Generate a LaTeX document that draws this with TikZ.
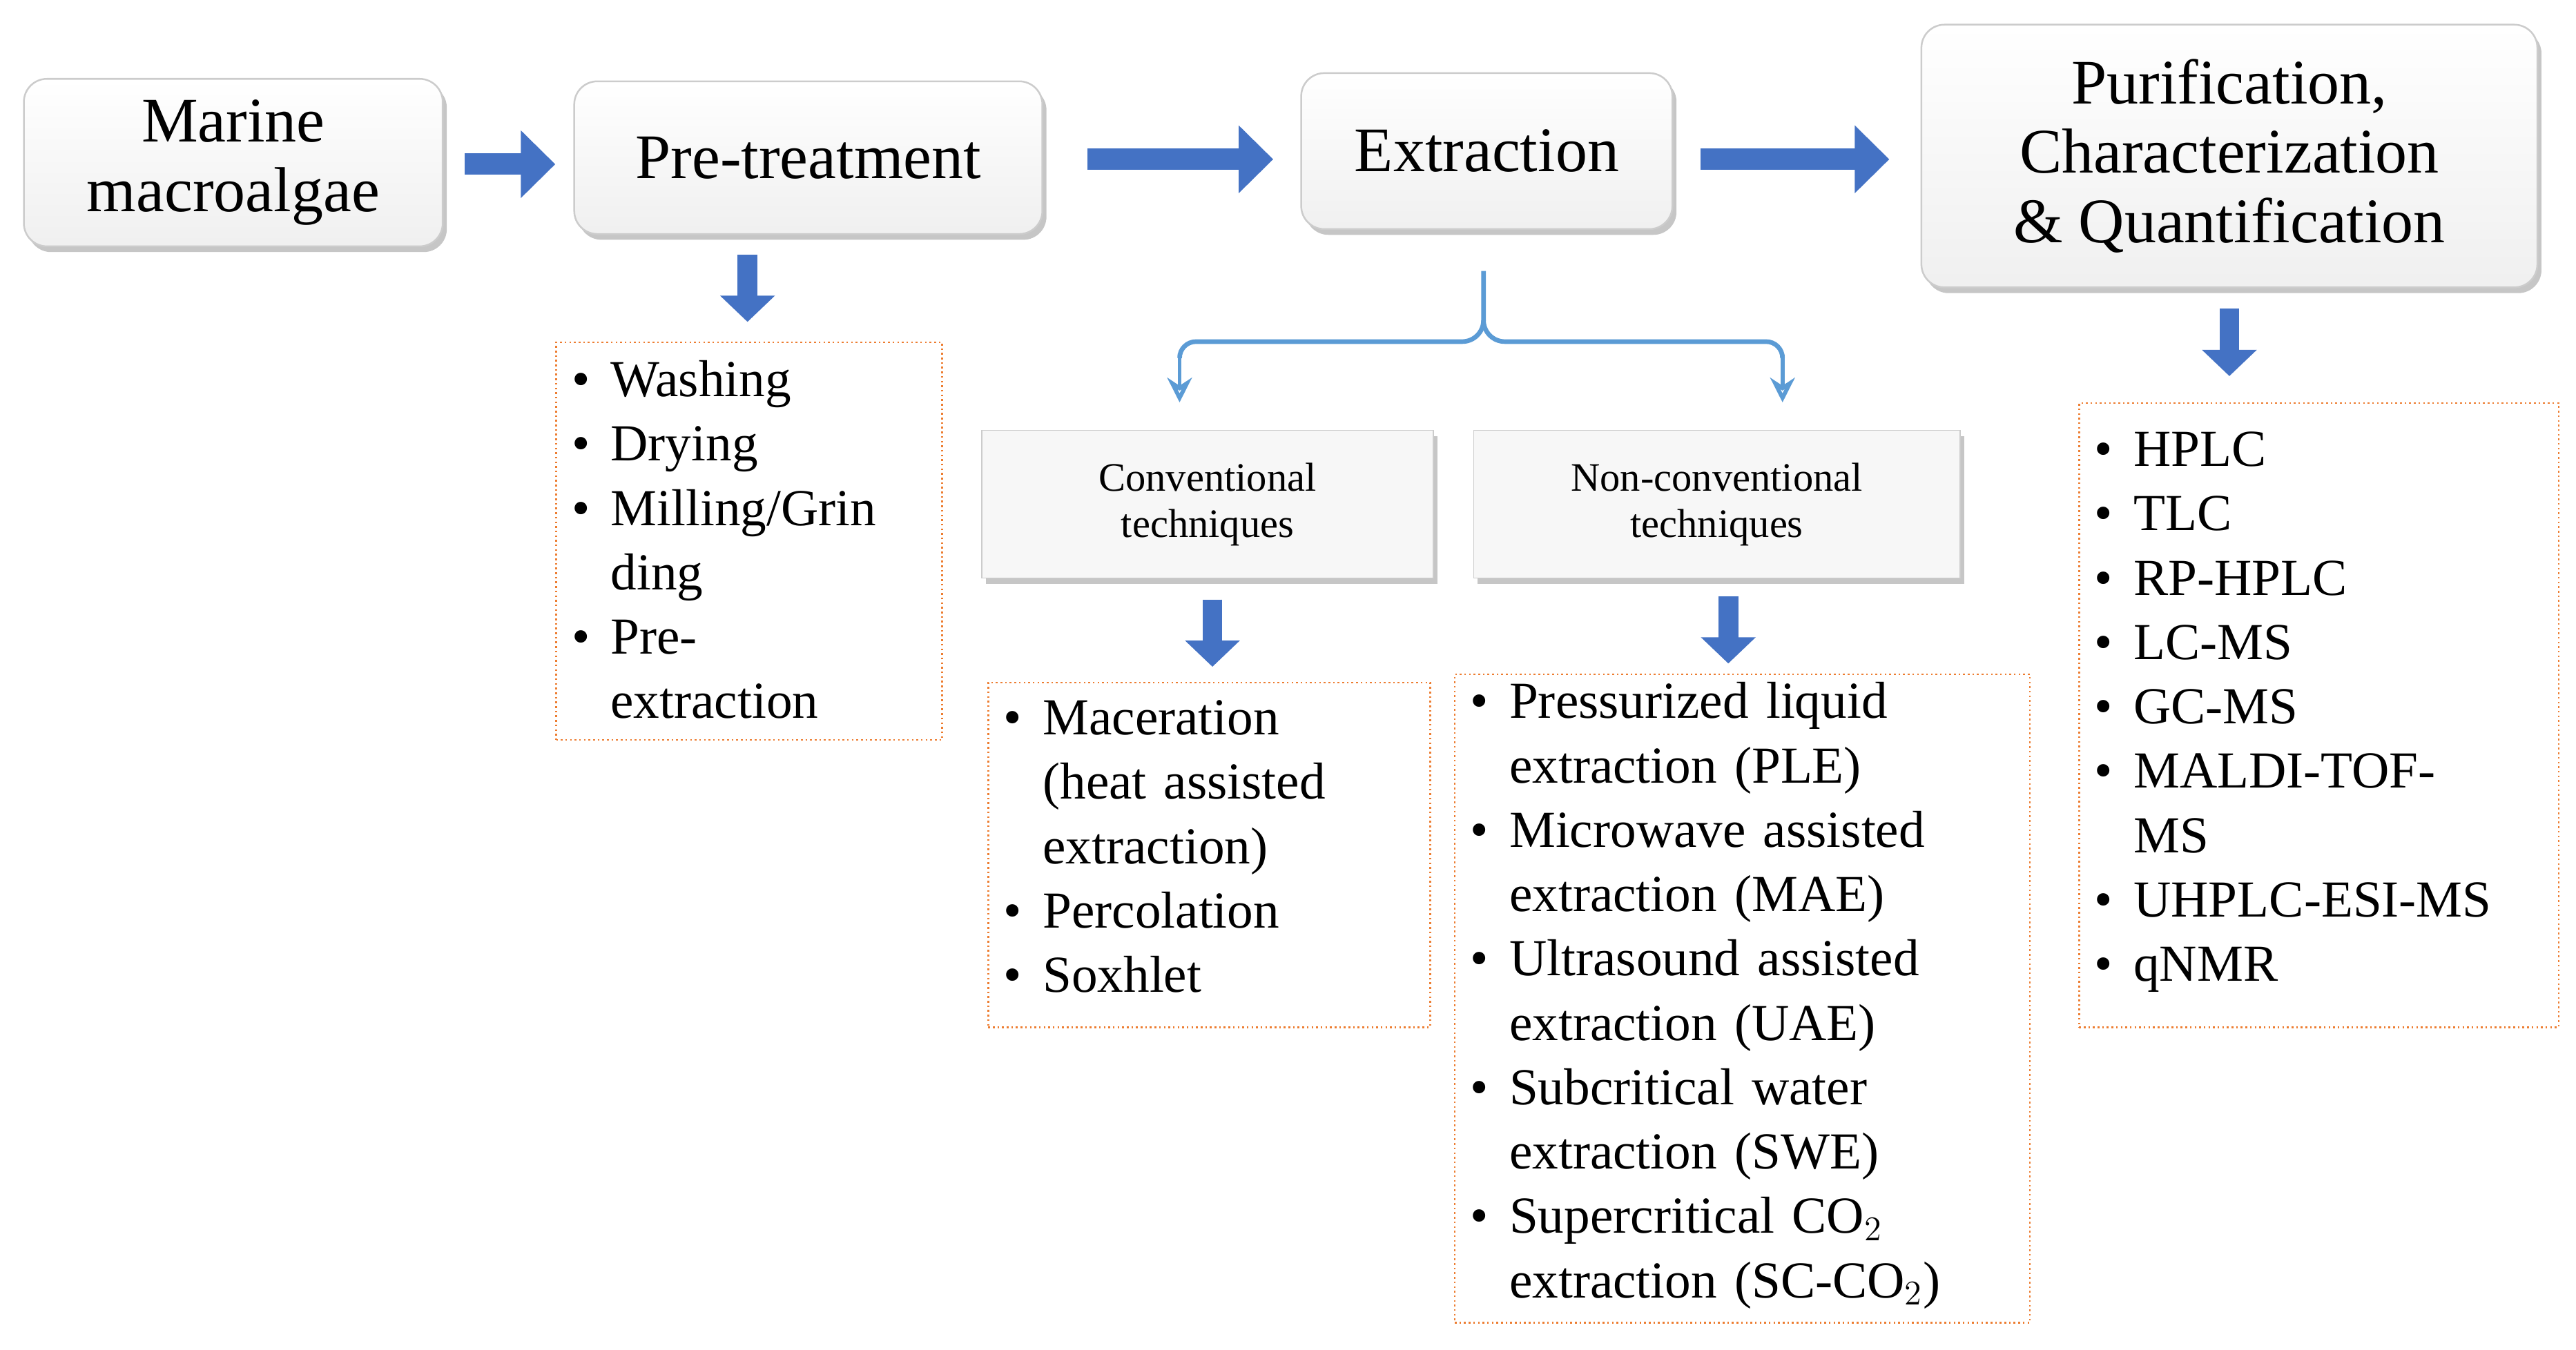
\documentclass[tikz,border=0pt]{standalone}
\usepackage{fontspec}
\setmainfont{Liberation Serif}
\usepackage{enumitem}
\usetikzlibrary{shadows,arrows.meta}
\definecolor{ablue}{RGB}{68,114,196}
\definecolor{lblue}{RGB}{91,155,213}
\definecolor{ora}{RGB}{237,125,49}
\tikzset{
 main/.style={draw=gray!40,line width=0.6pt,rounded corners=8pt,fill=white,
   top color=white,bottom color=gray!12,drop shadow={shadow xshift=0.5mm,shadow yshift=-0.7mm,opacity=0.45},
   font=\fontsize{22}{24}\selectfont,align=center,inner sep=0pt},
 sub/.style={draw=gray!40,fill=gray!6,drop shadow={shadow xshift=0.5mm,shadow yshift=-0.7mm,opacity=0.45},
   font=\fontsize{14}{16}\selectfont,align=center,inner sep=0pt},
 lst/.style={draw=ora,densely dotted,line width=0.6pt,anchor=north west,inner sep=0pt,
   font=\fontsize{18}{22.3}\selectfont,align=left},
 big/.style={ablue,line width=0.26cm,-{Triangle[length=0.42cm,width=0.8cm]}},
 dn/.style={ablue,line width=0.24cm,-{Triangle[length=0.32cm,width=0.65cm]}},
 br/.style={lblue,line width=1.4pt,-{Stealth[length=0.3cm,width=0.3cm,open]}}
}
\newcommand{\ilist}[3]{\parbox[t][#1][t]{\linewidth}{\vspace{#2}\raggedright\hyphenpenalty=10000\begin{itemize}[leftmargin=1.05em,labelsep=0.4em,itemsep=0pt,topsep=0pt,parsep=0pt,partopsep=0pt,label=\textbullet]#3\end{itemize}}}
\begin{document}
\begin{tikzpicture}[x=0.02cm,y=-0.02cm]
\useasboundingbox (0,0) rectangle (1568,822);
\node[main,minimum width=5.1cm,minimum height=2.04cm] (ma) at (142,99) {Marine\\macroalgae};
\node[main,minimum width=5.7cm,minimum height=1.86cm] (pt) at (492,96) {Pre-treatment};
\node[main,minimum width=4.52cm,minimum height=1.9cm] (ex) at (905,92) {Extraction};
\node[main,minimum width=7.5cm,minimum height=3.2cm] (pu) at (1357,95) {Purification,\\Characterization\\\& Quantification};
\draw[big] (283,100) -- (338,100);
\draw[big] (662,97) -- (775,97);
\draw[big] (1035,97) -- (1150,97);
\node[sub,minimum width=5.5cm,minimum height=1.8cm] (cv) at (735,307) {Conventional\\techniques};
\node[sub,minimum width=5.92cm,minimum height=1.8cm] (nc) at (1045,307) {Non-conventional\\techniques};
\node[lst,text width=4.7cm,minimum height=4.84cm] (l1) at (338,208) {\ilist{4.6cm}{0.1cm}{\item Washing\item Drying\item Milling/Grin\\ding\item Pre-\\extraction}};
\node[lst,text width=5.38cm,minimum height=4.2cm] (l2) at (601,415) {\ilist{4cm}{0.12cm}{\item Maceration\\(heat assisted\\extraction)\item Percolation\item Soxhlet}};
\node[lst,text width=7.0cm,minimum height=7.9cm] (l3) at (885,410) {\ilist{7.8cm}{0.05cm}{\item Pressurized liquid\\extraction (PLE)\item Microwave assisted\\extraction (MAE)\item Ultrasound assisted\\extraction (UAE)\item Subcritical water\\extraction (SWE)\item Supercritical CO$_2$\\extraction (SC-CO$_2$)}};
\node[lst,text width=5.84cm,minimum height=7.6cm] (l4) at (1265,245) {\ilist{7.5cm}{0.3cm}{\item HPLC\item TLC\item RP-HPLC\item LC-MS\item GC-MS\item MALDI-TOF-\\MS\item UHPLC-ESI-MS\item qNMR}};
\draw[dn] (455,155) -- (455,196);
\draw[dn] (1357,188) -- (1357,229);
\draw[dn] (738,365) -- (738,406);
\draw[dn] (1052,363) -- (1052,404);
\coordinate (bl) at (718,245);
\coordinate (brr) at (1085,245);
\draw[lblue,line width=1.6pt] (903,165) -- (903,195) to[out=-90,in=0] (890,208) -- (728,208) to[out=180,in=90] (718,218);
\draw[lblue,line width=1.6pt] (903,195) to[out=-90,in=180] (916,208) -- (1075,208) to[out=0,in=90] (1085,218);
\draw[br] (718,216) -- (bl);
\draw[br] (1085,216) -- (brr);
\end{tikzpicture}
\end{document}
